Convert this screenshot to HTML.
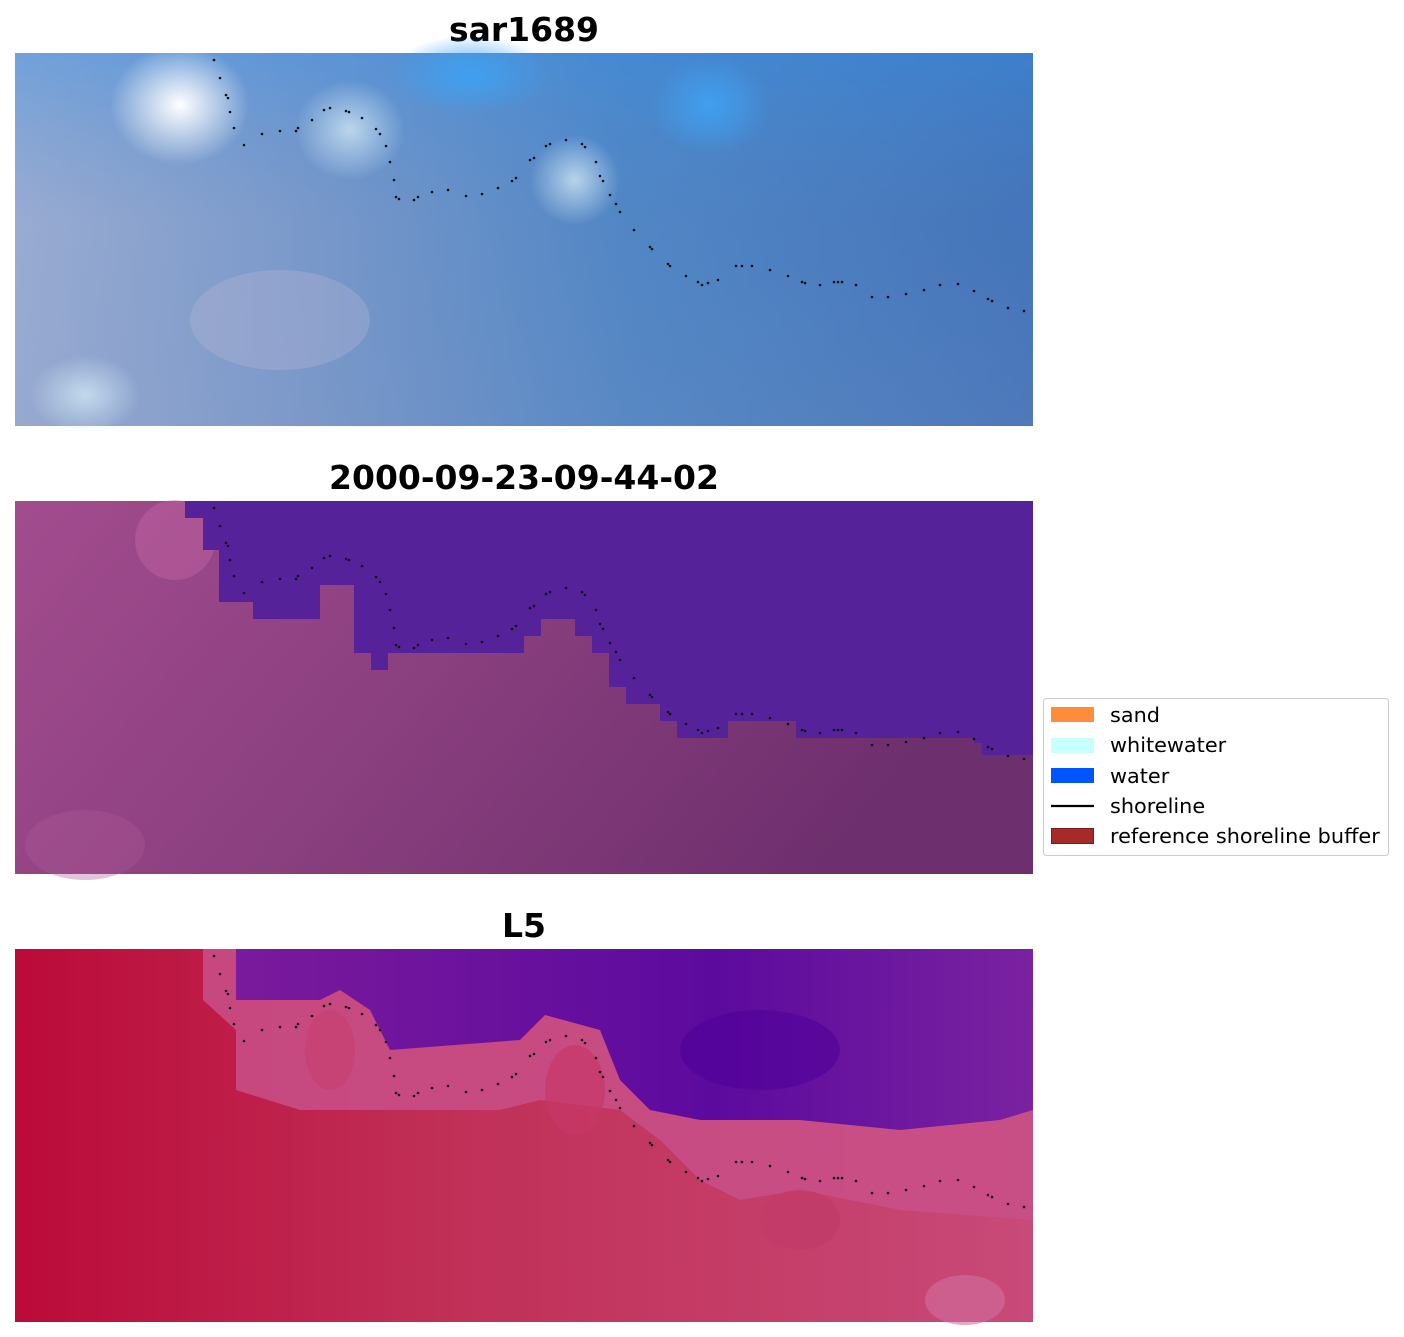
<!DOCTYPE html>
<html><head><meta charset="utf-8"><style>
body{margin:0;background:#fff;}
svg{display:block;font-family:"DejaVu Sans","Liberation Sans",sans-serif;}
</style></head><body>
<svg width="1404" height="1337" viewBox="0 0 1404 1337" xmlns="http://www.w3.org/2000/svg">
<defs>
<linearGradient id="g1" x1="0" y1="0" x2="1" y2="0">
<stop offset="0" stop-color="#a9b4d6"/><stop offset="0.3" stop-color="#7f9bcc"/><stop offset="0.6" stop-color="#4f85c6"/><stop offset="1" stop-color="#3f6fb8"/></linearGradient>
<linearGradient id="g1v" x1="0" y1="0" x2="0" y2="1">
<stop offset="0" stop-color="#3a8ee0" stop-opacity="0.5"/><stop offset="0.45" stop-color="#5a8ac0" stop-opacity="0.2"/><stop offset="1" stop-color="#7090c0" stop-opacity="0.3"/></linearGradient>
<radialGradient id="w1"><stop offset="0" stop-color="#ffffff"/><stop offset="1" stop-color="#ffffff" stop-opacity="0"/></radialGradient>
<radialGradient id="w2"><stop offset="0" stop-color="#d0e6f4" stop-opacity="0.8"/><stop offset="1" stop-color="#d0e6f4" stop-opacity="0"/></radialGradient>
<radialGradient id="b1"><stop offset="0" stop-color="#3fa0f0"/><stop offset="1" stop-color="#3fa0f0" stop-opacity="0"/></radialGradient>
<linearGradient id="g2" x1="0" y1="0" x2="1" y2="0.3">
<stop offset="0" stop-color="#a24c8e"/><stop offset="0.5" stop-color="#8a3f7e"/><stop offset="1" stop-color="#6e2f6e"/></linearGradient>
<linearGradient id="g3" x1="0" y1="0" x2="1" y2="0">
<stop offset="0" stop-color="#bb0a3a"/><stop offset="0.4" stop-color="#c02e55"/><stop offset="1" stop-color="#c84a78"/></linearGradient>
<linearGradient id="g3p" x1="0" y1="0" x2="1" y2="0">
<stop offset="0" stop-color="#7a1a9c"/><stop offset="0.6" stop-color="#5c0a9e"/><stop offset="1" stop-color="#7a22a0"/></linearGradient>
</defs>

<text x="524" y="41" font-size="33" font-weight="bold" text-anchor="middle">sar1689</text>
<text x="524" y="489" font-size="33" font-weight="bold" text-anchor="middle">2000-09-23-09-44-02</text>
<text x="524" y="937" font-size="33" font-weight="bold" text-anchor="middle">L5</text>

<rect x="15" y="53" width="1018" height="373" fill="url(#g1)"/>
<rect x="15" y="53" width="1018" height="373" fill="url(#g1v)"/>
<ellipse cx="180" cy="105" rx="70" ry="60" fill="url(#w1)"/>
<ellipse cx="350" cy="130" rx="55" ry="50" fill="url(#w2)"/>
<ellipse cx="575" cy="180" rx="45" ry="45" fill="url(#w2)"/>
<ellipse cx="85" cy="395" rx="55" ry="40" fill="url(#w2)"/>
<ellipse cx="280" cy="320" rx="90" ry="50" fill="#c0b8d8" opacity="0.3"/>
<ellipse cx="470" cy="75" rx="80" ry="40" fill="url(#b1)"/>
<ellipse cx="710" cy="105" rx="60" ry="50" fill="url(#b1)"/>

<rect x="15" y="501" width="1018" height="373" fill="url(#g2)"/>
<ellipse cx="85" cy="845" rx="60" ry="35" fill="#b05a98" opacity="0.35"/>
<ellipse cx="175" cy="540" rx="40" ry="40" fill="#c86aa8" opacity="0.4"/>
<polygon fill="#55229a" points="185,501 185,518 203,518 203,550 219,550 219,602 253,602 253,619 320,619 320,585 354,585 354,653 371,653 371,670 388,670 388,653 524,653 524,636 541,636 541,619 575,619 575,636 592,636 592,653 609,653 609,687 626,687 626,704 660,704 660,721 677,721 677,738 728,738 728,721 796,721 796,738 974,738 974,743 982,743 982,755 1033,755 1033,501"/>

<rect x="15" y="949" width="1018" height="373" fill="url(#g3)"/>
<polygon fill="#c85088" opacity="0.85" points="203,949 203,1000 236,1030 236,1090 300,1110 400,1110 500,1110 540,1100 620,1110 660,1140 700,1180 740,1200 800,1190 900,1210 1033,1220 1033,949"/>
<polygon fill="url(#g3p)" points="236,949 236,1000 320,1000 340,990 370,1010 390,1050 520,1040 545,1015 600,1030 620,1080 650,1110 700,1120 800,1120 900,1130 1000,1120 1033,1110 1033,949"/>
<ellipse cx="760" cy="1050" rx="80" ry="40" fill="#50009a" opacity="0.6"/>
<ellipse cx="330" cy="1050" rx="25" ry="40" fill="#c84070" opacity="0.7"/>
<ellipse cx="575" cy="1090" rx="30" ry="45" fill="#c83868" opacity="0.7"/>
<ellipse cx="800" cy="1220" rx="40" ry="30" fill="#c03a6a" opacity="0.7"/>
<ellipse cx="965" cy="1300" rx="40" ry="25" fill="#d070a0" opacity="0.6"/>

<g fill="#111">
<g id="s">
<circle cx="214" cy="60" r="1.3"/><circle cx="220" cy="78" r="1.3"/><circle cx="226" cy="95" r="1.3"/><circle cx="228" cy="98" r="1.3"/><circle cx="230" cy="112" r="1.3"/><circle cx="234" cy="128" r="1.3"/><circle cx="244" cy="145" r="1.3"/><circle cx="262" cy="134" r="1.3"/><circle cx="280" cy="131" r="1.3"/><circle cx="296" cy="131" r="1.3"/><circle cx="298" cy="128" r="1.3"/><circle cx="312" cy="120" r="1.3"/><circle cx="324" cy="110" r="1.3"/><circle cx="330" cy="108" r="1.3"/><circle cx="346" cy="111" r="1.3"/><circle cx="349" cy="112" r="1.3"/><circle cx="362" cy="118" r="1.3"/><circle cx="376" cy="129" r="1.3"/><circle cx="380" cy="134" r="1.3"/><circle cx="386" cy="146" r="1.3"/><circle cx="390" cy="162" r="1.3"/><circle cx="394" cy="180" r="1.3"/><circle cx="396" cy="197" r="1.3"/><circle cx="399" cy="199" r="1.3"/><circle cx="414" cy="200" r="1.3"/><circle cx="418" cy="197" r="1.3"/><circle cx="432" cy="192" r="1.3"/><circle cx="448" cy="190" r="1.3"/><circle cx="466" cy="196" r="1.3"/><circle cx="482" cy="194" r="1.3"/><circle cx="498" cy="188" r="1.3"/><circle cx="512" cy="181" r="1.3"/><circle cx="516" cy="178" r="1.3"/><circle cx="530" cy="160" r="1.3"/><circle cx="534" cy="158" r="1.3"/><circle cx="546" cy="146" r="1.3"/><circle cx="550" cy="144" r="1.3"/><circle cx="566" cy="140" r="1.3"/><circle cx="582" cy="144" r="1.3"/><circle cx="585" cy="147" r="1.3"/><circle cx="596" cy="162" r="1.3"/><circle cx="600" cy="176" r="1.3"/><circle cx="603" cy="181" r="1.3"/><circle cx="610" cy="195" r="1.3"/><circle cx="616" cy="204" r="1.3"/><circle cx="620" cy="212" r="1.3"/><circle cx="634" cy="230" r="1.3"/><circle cx="650" cy="247" r="1.3"/><circle cx="652" cy="249" r="1.3"/><circle cx="668" cy="264" r="1.3"/><circle cx="670" cy="266" r="1.3"/><circle cx="686" cy="276" r="1.3"/><circle cx="698" cy="282" r="1.3"/><circle cx="702" cy="285" r="1.3"/><circle cx="708" cy="283" r="1.3"/><circle cx="718" cy="280" r="1.3"/><circle cx="736" cy="266" r="1.3"/><circle cx="742" cy="266" r="1.3"/><circle cx="752" cy="266" r="1.3"/><circle cx="770" cy="270" r="1.3"/><circle cx="788" cy="276" r="1.3"/><circle cx="802" cy="282" r="1.3"/><circle cx="805" cy="283" r="1.3"/><circle cx="820" cy="285" r="1.3"/><circle cx="834" cy="282" r="1.3"/><circle cx="838" cy="282" r="1.3"/><circle cx="842" cy="282" r="1.3"/><circle cx="856" cy="285" r="1.3"/><circle cx="872" cy="297" r="1.3"/><circle cx="888" cy="297" r="1.3"/><circle cx="906" cy="294" r="1.3"/><circle cx="924" cy="290" r="1.3"/><circle cx="940" cy="285" r="1.3"/><circle cx="958" cy="284" r="1.3"/><circle cx="974" cy="291" r="1.3"/><circle cx="988" cy="299" r="1.3"/><circle cx="992" cy="301" r="1.3"/><circle cx="1008" cy="308" r="1.3"/><circle cx="1024" cy="311" r="1.3"/>
</g>
<use href="#s" transform="translate(0,448)"/>
<use href="#s" transform="translate(0,896)"/>
</g>

<rect x="1043.5" y="698.5" width="345" height="157" rx="3" fill="#fff" stroke="#ccc"/>
<rect x="1051" y="707" width="43" height="15" fill="#ff8c3a"/>
<rect x="1051" y="738" width="43" height="15" fill="#c8ffff"/>
<rect x="1051" y="768" width="43" height="15" fill="#0055ff"/>
<line x1="1051" y1="806" x2="1094" y2="806" stroke="#000" stroke-width="2.2"/>
<rect x="1051.5" y="828.5" width="42" height="15" fill="#a52a2a" stroke="#801818"/>
<g font-size="20.8" fill="#000">
<text x="1110" y="722">sand</text>
<text x="1110" y="752">whitewater</text>
<text x="1110" y="783">water</text>
<text x="1110" y="813">shoreline</text>
<text x="1110" y="843">reference shoreline buffer</text>
</g>
</svg>
</body></html>
